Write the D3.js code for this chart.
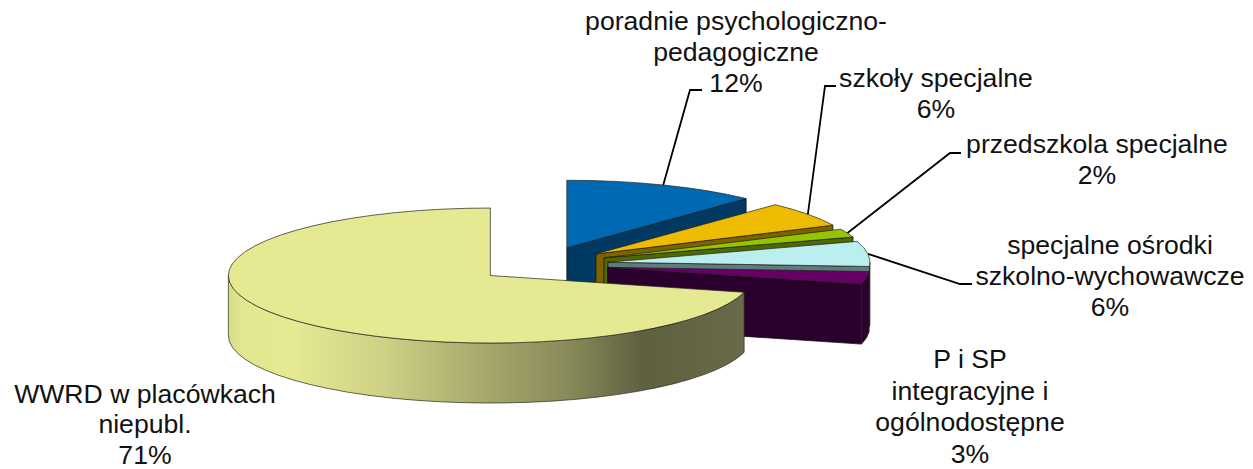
<!DOCTYPE html>
<html><head><meta charset="utf-8">
<script src="https://cdnjs.cloudflare.com/ajax/libs/d3/7.8.5/d3.min.js"></script>
<style>html,body{margin:0;padding:0;background:#fff}svg{display:block}</style>
</head><body><svg id="c" width="1253" height="469"></svg>
<script>
// data
const categories = ["poradnie psychologiczno-pedagogiczne","szkoły specjalne","przedszkola specjalne","specjalne ośrodki szkolno-wychowawcze","P i SP integracyjne i ogólnodostępne","WWRD w placówkach niepubl."];
const labelLines = [["poradnie psychologiczno-","pedagogiczne"],["szkoły specjalne"],["przedszkola specjalne"],["specjalne ośrodki","szkolno-wychowawcze"],["P i SP","integracyjne i","ogólnodostępne"],["WWRD w placówkach","niepubl."]];
const values = [12,6,2,6,3,71];

// style and layout, kept apart from the data
const topColors  = ["#0069b3","#edbb00","#95c400","#bbeeee","#660066","#e4e992"];
const wallColors = ["#003a63","#7d6200","#4f6800","#5f7b7b","#2a002c","url(#rim)"];
const labelX = [736,936,1097,1110,970,145];
const labelY = [29.5,87,153,254,368,402.5];
const labelLH = [31,31,31,31,31.5,30.5];
const elbows = [[690,90,702],[825,86,836],[950,153,961],[960,284,972],null,null];
const W=1253,H=469, cx=542.5, cy=264.5, rx=262, ry=67.5, depth=60, ex=66, ey=18, fontSize=25, stretch=1.065;

const svg=d3.select("#c");
const grad=svg.append("defs").append("linearGradient").attr("id","rim")
  .attr("gradientUnits","userSpaceOnUse").attr("x1",227).attr("x2",746).attr("y1",0).attr("y2",0);
[[0,"#d6da86"],[0.03,"#e2e790"],[0.13,"#e4e992"],[0.3,"#cfd186"],[0.48,"#aaab6e"],[0.66,"#888a59"],[0.8,"#5f6040"],[1,"#696a48"]]
  .forEach(s=>grad.append("stop").attr("offset",s[0]).attr("stop-color",s[1]));

const arcs=d3.pie().sort(null).startAngle(0).endAngle(2*Math.PI)(values);
const slices=arcs.map((a,i)=>{
  const mid=(a.startAngle+a.endAngle)/2;
  return {i,a0:a.startAngle,a1:a.endAngle,mid,ox:cx+ex*Math.sin(mid),oy:cy-ey*Math.cos(mid)};
});
const pt=(s,t)=>[s.ox+rx*Math.sin(t),s.oy-ry*Math.cos(t)];
const g=svg.append("g");

slices.forEach(s=>{
  const wall=wallColors[s.i], top=topColors[s.i];
  const p0=pt(s,s.a0), p1=pt(s,s.a1);
  if(s.a1<Math.PI){
    g.append("path").attr("d",`M${s.ox},${s.oy}L${p1[0]},${p1[1]}L${p1[0]},${p1[1]+depth}L${s.ox},${s.oy+depth}Z`)
      .attr("fill",wall).attr("stroke","#0b0b0b").attr("stroke-width",0.7);
  }
  const f0=Math.max(s.a0,Math.PI/2), f1=Math.min(s.a1,3*Math.PI/2);
  if(f1>f0){
    const a=pt(s,f0), b=pt(s,f1), large=(f1-f0)>Math.PI?1:0;
    g.append("path").attr("d",`M${a[0]},${a[1]}A${rx},${ry} 0 ${large} 1 ${b[0]},${b[1]}L${b[0]},${b[1]+depth}A${rx},${ry} 0 ${large} 0 ${a[0]},${a[1]+depth}Z`)
      .attr("fill",wall).attr("stroke","#2a2a1a").attr("stroke-width",0.7);
  }
  const large=(s.a1-s.a0)>Math.PI?1:0;
  g.append("path").attr("d",`M${s.ox},${s.oy}L${p0[0]},${p0[1]}A${rx},${ry} 0 ${large} 1 ${p1[0]},${p1[1]}Z`)
    .attr("fill",top).attr("stroke","#222").attr("stroke-width",0.7);
});

// leader lines
slices.forEach(s=>{
  const e=elbows[s.i]; if(!e) return;
  const p=pt(s,s.mid);
  svg.append("path").attr("d",`M${p[0]},${p[1]}L${e[0]},${e[1]}L${e[2]},${e[1]}`)
    .attr("fill","none").attr("stroke","#000").attr("stroke-width",1.8);
});

// labels
labelLines.forEach((lines,i)=>{
  [...lines,values[i]+"%"].forEach((l,j)=>{
    svg.append("text").attr("text-anchor","middle")
      .attr("font-family","'Liberation Sans',Arial,sans-serif").attr("font-size",fontSize).attr("fill","#111")
      .attr("transform",`translate(${labelX[i]},${labelY[i]+j*labelLH[i]}) scale(${stretch},1)`)
      .text(l);
  });
});
</script></body></html>
